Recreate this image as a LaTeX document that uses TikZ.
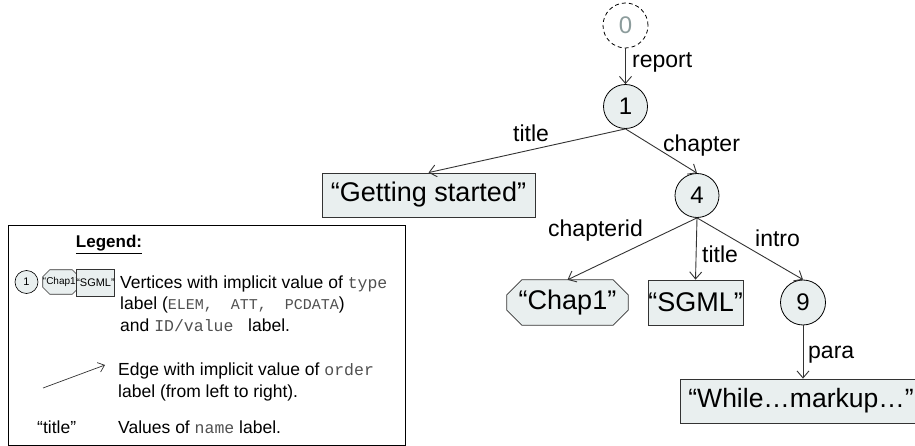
\documentclass[tikz,border=0pt]{standalone}
\usepackage{fontspec}
\setmainfont{Liberation Sans}
\newfontfamily\monofont{Liberation Mono}
\usetikzlibrary{arrows.meta,backgrounds}

\definecolor{nodefill}{HTML}{E9EFEF}
\definecolor{ghost}{HTML}{8C9C9C}
\definecolor{linegray}{HTML}{333333}
\definecolor{monogray}{HTML}{505050}

\newcommand\fs[1]{\fontsize{#1}{#1}\selectfont}
% code-style words in the legend
\newcommand\code[2][16.5]{{\monofont\fs{#1}\color{monogray}#2}}

% octagon outline behind a (borderless) node: #1 node name, #2 chamfer, #3 line width
\newcommand\octagonbehind[3]{%
  \begin{pgfonlayer}{background}
    \filldraw[draw=black!80,fill=nodefill,line width=#3]
      ([xshift=#2]#1.north west) -- ([xshift=-#2]#1.north east)
      -- ([yshift=-#2]#1.north east) -- ([yshift=#2]#1.south east)
      -- ([xshift=-#2]#1.south east) -- ([xshift=#2]#1.south west)
      -- ([yshift=#2]#1.south west) -- ([yshift=-#2]#1.north west) -- cycle;
  \end{pgfonlayer}}

\tikzset{
  vertex/.style={circle,draw=black,fill=nodefill,line width=0.8pt,
    minimum size=44pt,inner sep=0pt,font=\fs{24}},
  ghostvertex/.style={circle,draw=black,dash pattern=on 4pt off 3pt,line width=0.8pt,
    minimum size=45pt,inner sep=0pt,font=\fs{24},text=ghost},
  valbox/.style={rectangle,draw=black!80,fill=nodefill,line width=0.8pt,
    inner sep=0pt,font=\fs{27}},
  attbox/.style={rectangle,inner sep=0pt,font=\fs{27}},
  edge/.style={draw=linegray,line width=0.9pt,-{Straight Barb[length=7pt,width=12pt]}},
  elabel/.style={anchor=base west,inner sep=0pt,font=\fs{23}},
  legtext/.style={anchor=base west,inner sep=0pt,font=\fs{17.5}},
}

\begin{document}
\begin{tikzpicture}[x=1pt,y=-1pt]
\useasboundingbox (0,0) rectangle (915,446);

% ---- tree ----
\node[ghostvertex] (n0) at (625.5,25.5) {0};
\node[vertex] (n1) at (625.5,106.5) {1};
\node[valbox,minimum width=213pt,minimum height=44pt] (gs) at (428.5,195) {“Getting started”};
\node[vertex] (n4) at (697,195.5) {4};
\node[attbox,minimum width=121pt,minimum height=45pt] (chap) at (567.5,302.5) {“Chap1”};
\octagonbehind{chap}{15pt}{0.8pt}
\node[valbox,minimum width=95pt,minimum height=45pt] (sgml) at (695.5,302.5) {“SGML”};
\node[vertex,minimum size=45pt] (n9) at (803,302.5) {9};
\node[valbox,anchor=west,minimum height=44pt,inner xsep=8pt,font=\fs{26.5}] (para)
  at (680,401) {“While…markup…”};

\draw[edge] (n0.south) -- (n1.north);
\draw[edge] (n1.south) -- (gs.north);
\draw[edge] (n1.south) -- (n4.north);
\draw[edge] (n4.south) -- (chap.north);
\draw[edge] (n4.south) -- (sgml.north);
\draw[edge] (n4.south) -- (n9.north);
\draw[edge] (n9.south) -- (n9.south |- para.north);

\node[elabel] (lreport) at (632,68) {report};
\node[elabel] (ltitle) at (513,142) {title};
\node[elabel] (lchapter) at (663,152) {chapter};
\node[elabel] (lchapterid) at (548,237) {chapterid};
\node[elabel] (ltitleb) at (702,262) {title};
\node[elabel] (lintro) at (755,247) {intro};
\node[elabel] (lpara) at (808,358) {para};

% ---- legend ----
\node[draw=black,line width=0.9pt,anchor=north west,minimum width=397pt,
  minimum height=220pt,inner sep=0pt] (legend) at (8,225) {};
\node[anchor=base,inner sep=0pt,font=\bfseries\fs{17}] (legtitle) at (109,248)
  {\underline{Legend:}};

\node[vertex,minimum size=23pt,line width=0.6pt,font=\fs{11}] (iconv) at (26.5,282) {1};
\node[attbox,minimum width=34pt,minimum height=24pt,font=\fs{10}] (icona) at (61,282) {“Chap1”};
\octagonbehind{icona}{7pt}{0.6pt}
\node[valbox,minimum width=33pt,minimum height=27pt,line width=0.6pt,font=\fs{11}]
  (iconp) at (95.5,282.5) {“SGML”};

\node[legtext] (lv1) at (120,288) {Vertices with implicit value of \code{type}};
\node[legtext] (lv2) at (120,309.5) {label (\code[15]{ELEM,~~ATT,~~PCDATA})};
\node[legtext] (lv3) at (120,331) {and \code{ID/value~}\ label.};

\coordinate (ea) at (43,388);
\coordinate (eb) at (105,365);
\draw[edge,line width=0.7pt,-{Straight Barb[length=6pt,width=10pt]}] (ea) -- (eb);
\node[legtext] (le1) at (118,375) {Edge with implicit value of \code{order}};
\node[legtext] (le2) at (118,397) {label (from left to right).};

\node[legtext] (ln0) at (37,433) {“title”};
\node[legtext] (ln1) at (118,433) {Values of \code{name} label.};
\end{tikzpicture}
\end{document}
